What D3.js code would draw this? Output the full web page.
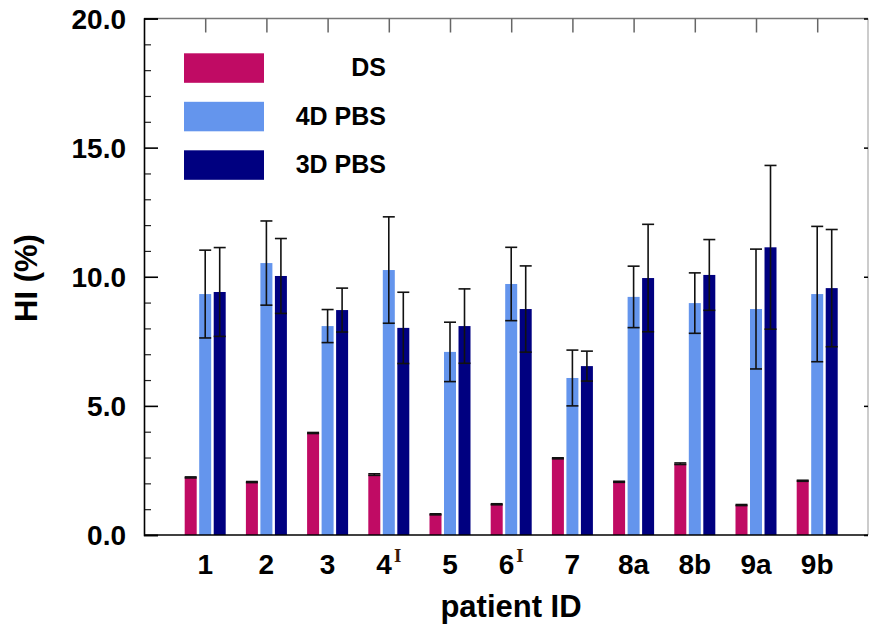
<!DOCTYPE html>
<html>
<head>
<meta charset="utf-8">
<script src="https://cdn.jsdelivr.net/npm/d3@7"></script>
<style>
  body { margin: 0; background: #fff; }
  text { font-family: "Liberation Sans", Arial, sans-serif; font-weight: bold; }
</style>
</head>
<body>
<div id="chart"></div>
<script>
// Data
const patients = ["1", "2", "3", "4", "5", "6", "7", "8a", "8b", "9a", "9b"];
const superscripts = ["", "", "", "I", "", "I", "", "", "", "", ""];

const dsValues = [2.23, 2.05, 3.95, 2.34, 0.80, 1.19, 2.97, 2.06, 2.76, 1.16, 2.10];
const dsErrors = [0.02, 0.02, 0.02, 0.03, 0.02, 0.02, 0.02, 0.02, 0.03, 0.02, 0.02];

const pbs4dValues = [9.33, 10.53, 8.09, 10.26, 7.09, 9.72, 6.08, 9.22, 8.98, 8.75, 9.33];
const pbs4dErrors = [1.70, 1.63, 0.64, 2.06, 1.15, 1.42, 1.08, 1.19, 1.17, 2.32, 2.62];

const pbs3dValues = [9.41, 10.03, 8.71, 8.02, 8.09, 8.75, 6.54, 9.95, 10.07, 11.14, 9.56];
const pbs3dErrors = [1.72, 1.45, 0.85, 1.38, 1.44, 1.67, 0.58, 2.08, 1.37, 3.17, 2.27];

const seriesNames = ["DS", "4D PBS", "3D PBS"];
const seriesColors = ["#c00b64", "#6495ed", "#000080"];
const yMajorTicks = [0, 5, 10, 15, 20];
const yMinorTicks = [1, 2, 3, 4, 6, 7, 8, 9, 11, 12, 13, 14, 16, 17, 18, 19];

const series = [
    { name: seriesNames[0], color: seriesColors[0], values: dsValues, errors: dsErrors, offset: -0.237 },
    { name: seriesNames[1], color: seriesColors[1], values: pbs4dValues, errors: pbs4dErrors, offset: 0 },
    { name: seriesNames[2], color: seriesColors[2], values: pbs3dValues, errors: pbs3dErrors, offset: 0.237 }
];

// Layout
const W = 869, H = 628;
const plotLeft = 144, plotRight = 868, plotTop = 18.5, plotBottom = 535;
const barW = 0.196;

const svg = d3.select("#chart").append("svg")
    .attr("width", W)
    .attr("height", H);

// Scales (x: patient index 1..11)
const x = d3.scaleLinear().domain([0, 11.83]).range([plotLeft, plotRight]);
const y = d3.scaleLinear().domain([0, 20]).range([plotBottom, plotTop]);
const px = x(1) - x(0);

// Bars
series.forEach(function(s) {
    svg.append("g").selectAll("rect")
        .data(s.values)
      .enter().append("rect")
        .attr("x", (d, i) => x(i + 1 + s.offset - barW / 2))
        .attr("y", d => y(d))
        .attr("width", barW * px)
        .attr("height", d => y(0) - y(d))
        .attr("fill", s.color);
});

// Error bars
series.forEach(function(s) {
    const g = svg.append("g")
        .attr("stroke", "#111")
        .attr("stroke-width", 1.6);
    s.values.forEach(function(v, i) {
        const cx = x(i + 1 + s.offset);
        const e = s.errors[i];
        g.append("line")
            .attr("x1", cx).attr("x2", cx)
            .attr("y1", y(v + e)).attr("y2", y(v - e));
        [v + e, v - e].forEach(function(t) {
            g.append("line")
                .attr("x1", cx - 6).attr("x2", cx + 6)
                .attr("y1", y(t)).attr("y2", y(t));
        });
    });
});

// Frame
svg.append("line").attr("x1", plotLeft).attr("x2", plotRight).attr("y1", plotTop).attr("y2", plotTop)
    .attr("stroke", "#777").attr("stroke-width", 1.5);
svg.append("line").attr("x1", plotRight).attr("x2", plotRight).attr("y1", plotTop).attr("y2", plotBottom)
    .attr("stroke", "#999").attr("stroke-width", 1);

// Left axis with inward ticks
const yAxisMajor = d3.axisRight(y).tickValues(yMajorTicks).tickSize(14).tickFormat("");
const yAxisMinor = d3.axisRight(y).tickValues(yMinorTicks).tickSize(7).tickFormat("");
svg.append("g").attr("transform", "translate(" + plotLeft + ",0)").call(yAxisMinor)
    .call(g => g.select(".domain").remove())
    .selectAll("line").attr("stroke", "#222").attr("stroke-width", 1.2);
svg.append("g").attr("transform", "translate(" + plotLeft + ",0)").call(yAxisMajor)
    .call(g => g.select(".domain").attr("stroke", "#000").attr("stroke-width", 1.6))
    .selectAll("line").attr("stroke", "#000").attr("stroke-width", 1.6);

// Right axis ticks
svg.append("g").attr("transform", "translate(" + plotRight + ",0)")
    .call(d3.axisLeft(y).tickValues(yMajorTicks).tickSize(4).tickFormat(""))
    .call(g => g.select(".domain").remove())
    .selectAll("line").attr("stroke", "#000").attr("stroke-width", 1.5);

// Y tick labels
svg.append("g").selectAll("text")
    .data(yMajorTicks)
  .enter().append("text")
    .attr("x", 126)
    .attr("y", d => y(d))
    .attr("dy", "0.36em")
    .attr("text-anchor", "end")
    .style("font-size", "28px")
    .text(d => d3.format(".1f")(d));

// Top axis ticks at patient positions
svg.append("g").attr("transform", "translate(0," + plotTop + ")")
    .call(d3.axisBottom(x).tickValues(d3.range(1, 12)).tickSize(14).tickFormat(""))
    .call(g => g.select(".domain").remove())
    .selectAll("line").attr("stroke", "#666").attr("stroke-width", 1.5);

// Bottom axis line
svg.append("line").attr("x1", plotLeft).attr("x2", plotRight).attr("y1", plotBottom).attr("y2", plotBottom)
    .attr("stroke", "#000").attr("stroke-width", 1.6);

// X tick labels
const xl = svg.append("g").selectAll("text")
    .data(patients)
  .enter().append("text")
    .attr("x", (d, i) => x(i + 1))
    .attr("y", 574)
    .attr("text-anchor", "middle")
    .style("font-size", "28px");
xl.append("tspan").text(d => d);
xl.append("tspan")
    .attr("dx", 2)
    .attr("dy", -12)
    .style("font-family", "'Liberation Serif', 'Times New Roman', serif")
    .style("font-size", "19px")
    .attr("fill", "#3a1a05")
    .text((d, i) => superscripts[i]);

// Axis titles
svg.append("text")
    .attr("x", 511)
    .attr("y", 617)
    .attr("text-anchor", "middle")
    .style("font-size", "31px")
    .text("patient ID");

svg.append("text")
    .attr("transform", "translate(37,278) rotate(-90)")
    .attr("text-anchor", "middle")
    .style("font-size", "31px")
    .text("HI (%)");

// Legend
const legend = svg.append("g").selectAll("g")
    .data(series)
  .enter().append("g")
    .attr("transform", (d, i) => "translate(184," + (53.3 + i * 48.5) + ")");
legend.append("rect")
    .attr("width", 80)
    .attr("height", 29.5)
    .attr("fill", d => d.color);
legend.append("text")
    .attr("x", 202)
    .attr("y", 23)
    .attr("text-anchor", "end")
    .style("font-size", "25px")
    .text(d => d.name);
</script>
</body>
</html>
